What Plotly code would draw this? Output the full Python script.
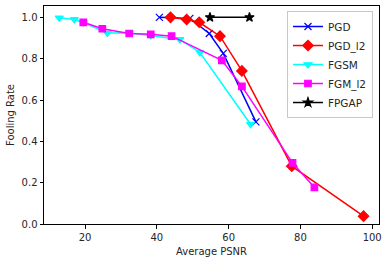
import plotly.graph_objects as go

pgd_x = [40.7, 49.2, 54.6, 58.5, 67.6]
pgd_y = [1.0, 0.995, 0.922, 0.826, 0.494]

pgd_l2_x = [43.8, 48.3, 51.8, 57.6, 63.7, 77.6, 97.6]
pgd_l2_y = [1.0, 0.99, 0.976, 0.909, 0.741, 0.28, 0.038]

fgsm_x = [12.8, 17.0, 19.5, 26.2, 32.3, 38.3, 46.4, 52.0, 66.1]
fgsm_y = [0.998, 0.99, 0.975, 0.924, 0.926, 0.912, 0.893, 0.83, 0.483]

fgm_l2_x = [19.5, 24.8, 32.3, 38.3, 44.1, 58.1, 63.7, 77.8, 83.9]
fgm_l2_y = [0.976, 0.945, 0.922, 0.918, 0.909, 0.792, 0.666, 0.296, 0.177]

fpgap_x = [54.8, 65.8]
fpgap_y = [1.0, 1.0]

x_ticks = [20, 40, 60, 80, 100]
y_ticks = [0.0, 0.2, 0.4, 0.6, 0.8, 1.0]

series = [
    ("PGD", pgd_x, pgd_y, "#0000ff", "x-thin", 7),
    ("PGD_l2", pgd_l2_x, pgd_l2_y, "#ff0000", "diamond", 8),
    ("FGSM", fgsm_x, fgsm_y, "#00ffff", "triangle-down", 7),
    ("FGM_l2", fgm_l2_x, fgm_l2_y, "#ff00ff", "square", 6.5),
    ("FPGAP", fpgap_x, fpgap_y, "#000000", "star", 7),
]

fig = go.Figure()
for name, xs, ys, color, sym, sz in series:
    fig.add_trace(go.Scatter(
        x=xs, y=ys, name=name, mode="lines+markers",
        line=dict(color=color, width=1.5),
        marker=dict(symbol=sym, size=sz, color=color,
                    line=dict(color=color, width=1.2)),
    ))

font = "DejaVu Sans"
axis_common = dict(
    showline=True, linecolor="black", linewidth=1, mirror=True,
    ticks="outside", ticklen=3.5, tickcolor="black", tickwidth=1,
    showgrid=False, zeroline=False,
    tickfont=dict(family=font, size=10, color="#262626"),
)
fig.update_xaxes(range=[8.55, 101.9], tickvals=x_ticks,
                 ticktext=[str(v) for v in x_ticks],
                 title=dict(text="Average PSNR", font=dict(family=font, size=10, color="#262626"), standoff=6),
                 **axis_common)
fig.update_yaxes(range=[0, 1.055], tickvals=y_ticks,
                 ticktext=[f"{v:.1f}" for v in y_ticks],
                 title=dict(text="Fooling Rate", font=dict(family=font, size=10, color="#262626"), standoff=5),
                 **axis_common)

fig.update_layout(
    width=388, height=262,
    margin=dict(l=44, r=9, t=6, b=38),
    plot_bgcolor="white", paper_bgcolor="white",
    font=dict(family=font, size=10, color="#262626"),
    legend=dict(x=0.982, y=0.977, xanchor="right", yanchor="top",
                bordercolor="#c8c8c8", borderwidth=1, bgcolor="white",
                font=dict(family=font, size=10.5, color="#262626"),
                itemwidth=30, tracegroupgap=0),
)
fig.write_html("out.html", config={"displayModeBar": False},
               post_script="document.body.style.margin='0';document.body.style.overflow='hidden';")
